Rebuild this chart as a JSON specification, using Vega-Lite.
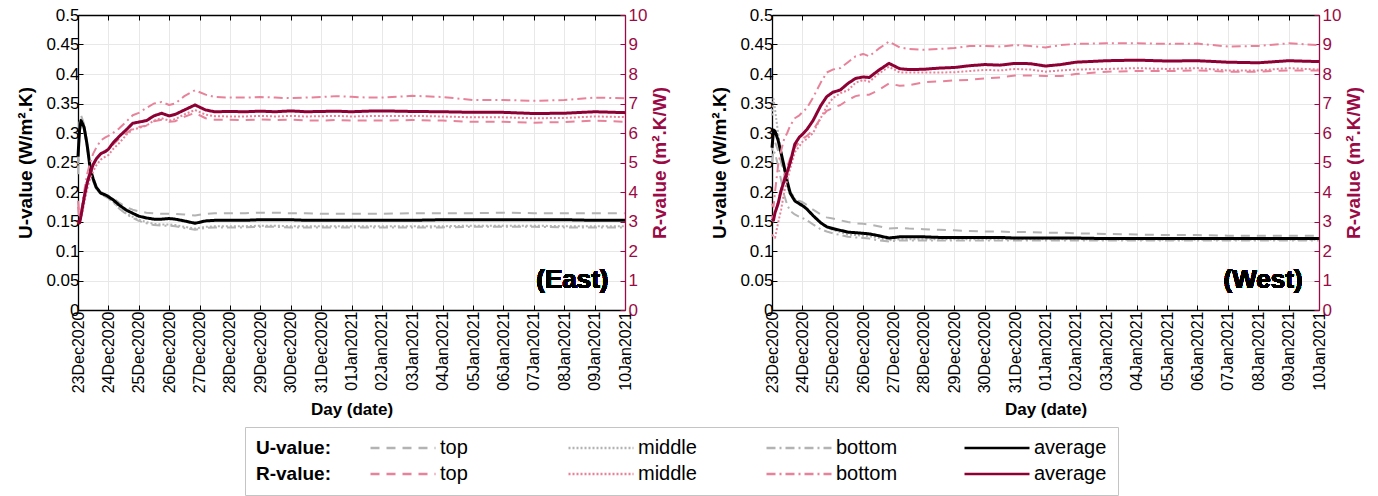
{
  "$schema": "https://vega.github.io/schema/vega-lite/v6.json",
  "padding": {"left": 16, "top": 6, "right": 4, "bottom": 2},
  "config": {
    "font": "Liberation Sans",
    "view": {"stroke": null},
    "axis": {
      "labelFont": "Liberation Sans", "labelFontSize": 17, "labelColor": "#000000",
      "titleFont": "Liberation Sans", "titleFontSize": 19, "titleFontWeight": "bold", "titleColor": "#000000",
      "domainColor": "#000000", "domainWidth": 1.3, "tickColor": "#000000", "tickSize": -5, "tickWidth": 1,
      "gridColor": "#e8e8e8", "gridWidth": 1, "labelFlush": false, "labelOverlap": false,
      "labelPadding": 4, "titlePadding": 4
    },
    "concat": {"spacing": 40}
  },
  "data": {"values": [
    {"p":"E","t":"2020-12-23T00:00","U top":0.25,"U middle":0.24,"U bottom":0.23,"U average":0.26,"R top":3.5,"R middle":3.0,"R bottom":3.7,"R average":3.05},
    {"p":"E","t":"2020-12-23T01:12","U top":0.32,"U middle":0.31,"U bottom":0.3,"U average":0.305,"R top":3.1,"R middle":2.9,"R bottom":3.2,"R average":2.95},
    {"p":"E","t":"2020-12-23T02:24","U top":0.33,"U middle":0.325,"U bottom":0.32,"U average":0.321,"R top":3.25,"R middle":3.1,"R bottom":3.3,"R average":3.2},
    {"p":"E","t":"2020-12-23T04:48","U top":0.315,"U middle":0.31,"U bottom":0.305,"U average":0.31,"R top":3.9,"R middle":3.6,"R bottom":4.0,"R average":3.8},
    {"p":"E","t":"2020-12-23T07:12","U top":0.285,"U middle":0.28,"U bottom":0.275,"U average":0.28,"R top":4.4,"R middle":4.1,"R bottom":4.6,"R average":4.3},
    {"p":"E","t":"2020-12-23T09:36","U top":0.25,"U middle":0.243,"U bottom":0.24,"U average":0.24,"R top":4.7,"R middle":4.45,"R bottom":5.0,"R average":4.65},
    {"p":"E","t":"2020-12-23T12:00","U top":0.225,"U middle":0.22,"U bottom":0.218,"U average":0.222,"R top":4.95,"R middle":4.7,"R bottom":5.3,"R average":4.93},
    {"p":"E","t":"2020-12-23T14:24","U top":0.21,"U middle":0.206,"U bottom":0.205,"U average":0.208,"R top":5.1,"R middle":4.9,"R bottom":5.5,"R average":5.12},
    {"p":"E","t":"2020-12-23T18:00","U top":0.2,"U middle":0.197,"U bottom":0.196,"U average":0.198,"R top":5.3,"R middle":5.1,"R bottom":5.75,"R average":5.3},
    {"p":"E","t":"2020-12-23T21:36","U top":0.196,"U middle":0.193,"U bottom":0.192,"U average":0.195,"R top":5.4,"R middle":5.2,"R bottom":5.85,"R average":5.37},
    {"p":"E","t":"2020-12-24T00:00","U top":0.194,"U middle":0.19,"U bottom":0.189,"U average":0.192,"R top":5.45,"R middle":5.25,"R bottom":5.9,"R average":5.45},
    {"p":"E","t":"2020-12-24T03:36","U top":0.19,"U middle":0.184,"U bottom":0.183,"U average":0.187,"R top":5.6,"R middle":5.45,"R bottom":6.0,"R average":5.66},
    {"p":"E","t":"2020-12-24T08:24","U top":0.182,"U middle":0.173,"U bottom":0.172,"U average":0.178,"R top":5.8,"R middle":5.65,"R bottom":6.15,"R average":5.88},
    {"p":"E","t":"2020-12-24T14:24","U top":0.174,"U middle":0.163,"U bottom":0.162,"U average":0.169,"R top":6.0,"R middle":5.95,"R bottom":6.4,"R average":6.12},
    {"p":"E","t":"2020-12-24T19:12","U top":0.17,"U middle":0.158,"U bottom":0.156,"U average":0.164,"R top":6.15,"R middle":6.12,"R bottom":6.6,"R average":6.33},
    {"p":"E","t":"2020-12-25T00:00","U top":0.167,"U middle":0.153,"U bottom":0.151,"U average":0.159,"R top":6.2,"R middle":6.17,"R bottom":6.68,"R average":6.37},
    {"p":"E","t":"2020-12-25T06:00","U top":0.165,"U middle":0.149,"U bottom":0.147,"U average":0.156,"R top":6.25,"R middle":6.25,"R bottom":6.85,"R average":6.42},
    {"p":"E","t":"2020-12-25T12:00","U top":0.164,"U middle":0.146,"U bottom":0.144,"U average":0.154,"R top":6.4,"R middle":6.42,"R bottom":7.0,"R average":6.58},
    {"p":"E","t":"2020-12-25T18:00","U top":0.163,"U middle":0.145,"U bottom":0.143,"U average":0.154,"R top":6.45,"R middle":6.5,"R bottom":7.05,"R average":6.67},
    {"p":"E","t":"2020-12-26T00:00","U top":0.163,"U middle":0.145,"U bottom":0.143,"U average":0.155,"R top":6.38,"R middle":6.42,"R bottom":6.95,"R average":6.58},
    {"p":"E","t":"2020-12-26T04:48","U top":0.163,"U middle":0.144,"U bottom":0.142,"U average":0.154,"R top":6.4,"R middle":6.47,"R bottom":7.0,"R average":6.63},
    {"p":"E","t":"2020-12-26T12:00","U top":0.162,"U middle":0.141,"U bottom":0.139,"U average":0.151,"R top":6.55,"R middle":6.63,"R bottom":7.25,"R average":6.78},
    {"p":"E","t":"2020-12-26T20:24","U top":0.16,"U middle":0.138,"U bottom":0.136,"U average":0.147,"R top":6.68,"R middle":6.78,"R bottom":7.45,"R average":6.95},
    {"p":"E","t":"2020-12-27T04:48","U top":0.163,"U middle":0.141,"U bottom":0.139,"U average":0.151,"R top":6.5,"R middle":6.62,"R bottom":7.3,"R average":6.78},
    {"p":"E","t":"2020-12-27T12:00","U top":0.164,"U middle":0.142,"U bottom":0.14,"U average":0.152,"R top":6.45,"R middle":6.57,"R bottom":7.22,"R average":6.72},
    {"p":"E","t":"2020-12-28T00:00","U top":0.164,"U middle":0.142,"U bottom":0.14,"U average":0.152,"R top":6.45,"R middle":6.56,"R bottom":7.2,"R average":6.73},
    {"p":"E","t":"2020-12-28T12:00","U top":0.164,"U middle":0.142,"U bottom":0.14,"U average":0.152,"R top":6.44,"R middle":6.56,"R bottom":7.2,"R average":6.72},
    {"p":"E","t":"2020-12-29T00:00","U top":0.165,"U middle":0.143,"U bottom":0.141,"U average":0.153,"R top":6.46,"R middle":6.58,"R bottom":7.22,"R average":6.74},
    {"p":"E","t":"2020-12-29T12:00","U top":0.165,"U middle":0.143,"U bottom":0.141,"U average":0.153,"R top":6.44,"R middle":6.56,"R bottom":7.2,"R average":6.72},
    {"p":"E","t":"2020-12-30T00:00","U top":0.164,"U middle":0.142,"U bottom":0.14,"U average":0.153,"R top":6.45,"R middle":6.58,"R bottom":7.18,"R average":6.75},
    {"p":"E","t":"2020-12-30T12:00","U top":0.164,"U middle":0.142,"U bottom":0.14,"U average":0.152,"R top":6.43,"R middle":6.56,"R bottom":7.2,"R average":6.72},
    {"p":"E","t":"2020-12-31T00:00","U top":0.163,"U middle":0.142,"U bottom":0.14,"U average":0.152,"R top":6.42,"R middle":6.57,"R bottom":7.22,"R average":6.73},
    {"p":"E","t":"2020-12-31T12:00","U top":0.163,"U middle":0.142,"U bottom":0.14,"U average":0.152,"R top":6.44,"R middle":6.58,"R bottom":7.25,"R average":6.74},
    {"p":"E","t":"2021-01-01T00:00","U top":0.163,"U middle":0.142,"U bottom":0.14,"U average":0.152,"R top":6.42,"R middle":6.56,"R bottom":7.23,"R average":6.72},
    {"p":"E","t":"2021-01-01T12:00","U top":0.163,"U middle":0.142,"U bottom":0.14,"U average":0.152,"R top":6.42,"R middle":6.57,"R bottom":7.2,"R average":6.74},
    {"p":"E","t":"2021-01-02T00:00","U top":0.163,"U middle":0.142,"U bottom":0.14,"U average":0.152,"R top":6.42,"R middle":6.58,"R bottom":7.2,"R average":6.75},
    {"p":"E","t":"2021-01-03T00:00","U top":0.164,"U middle":0.142,"U bottom":0.14,"U average":0.152,"R top":6.44,"R middle":6.58,"R bottom":7.26,"R average":6.73},
    {"p":"E","t":"2021-01-04T00:00","U top":0.164,"U middle":0.142,"U bottom":0.14,"U average":0.153,"R top":6.42,"R middle":6.56,"R bottom":7.22,"R average":6.72},
    {"p":"E","t":"2021-01-05T00:00","U top":0.164,"U middle":0.143,"U bottom":0.141,"U average":0.153,"R top":6.38,"R middle":6.53,"R bottom":7.12,"R average":6.7},
    {"p":"E","t":"2021-01-06T00:00","U top":0.165,"U middle":0.143,"U bottom":0.141,"U average":0.153,"R top":6.38,"R middle":6.53,"R bottom":7.12,"R average":6.7},
    {"p":"E","t":"2021-01-07T00:00","U top":0.164,"U middle":0.143,"U bottom":0.141,"U average":0.153,"R top":6.35,"R middle":6.5,"R bottom":7.09,"R average":6.66},
    {"p":"E","t":"2021-01-08T00:00","U top":0.164,"U middle":0.142,"U bottom":0.14,"U average":0.153,"R top":6.37,"R middle":6.51,"R bottom":7.12,"R average":6.67},
    {"p":"E","t":"2021-01-09T00:00","U top":0.164,"U middle":0.142,"U bottom":0.14,"U average":0.152,"R top":6.42,"R middle":6.56,"R bottom":7.2,"R average":6.72},
    {"p":"E","t":"2021-01-10T00:00","U top":0.164,"U middle":0.142,"U bottom":0.14,"U average":0.152,"R top":6.38,"R middle":6.54,"R bottom":7.18,"R average":6.69},
    {"p":"W","t":"2020-12-23T00:00","U top":0.27,"U middle":0.33,"U bottom":0.25,"U average":0.275,"R top":3.2,"R middle":2.55,"R bottom":3.6,"R average":3.1},
    {"p":"W","t":"2020-12-23T01:12","U top":0.29,"U middle":0.358,"U bottom":0.27,"U average":0.305,"R top":3.0,"R middle":2.5,"R bottom":3.5,"R average":3.05},
    {"p":"W","t":"2020-12-23T02:24","U top":0.285,"U middle":0.34,"U bottom":0.265,"U average":0.303,"R top":3.2,"R middle":2.45,"R bottom":4.0,"R average":3.3},
    {"p":"W","t":"2020-12-23T04:48","U top":0.27,"U middle":0.3,"U bottom":0.245,"U average":0.288,"R top":3.7,"R middle":2.95,"R bottom":4.9,"R average":3.6},
    {"p":"W","t":"2020-12-23T07:12","U top":0.25,"U middle":0.265,"U bottom":0.22,"U average":0.266,"R top":4.1,"R middle":3.4,"R bottom":5.4,"R average":4.05},
    {"p":"W","t":"2020-12-23T09:36","U top":0.23,"U middle":0.235,"U bottom":0.195,"U average":0.243,"R top":4.5,"R middle":4.0,"R bottom":5.8,"R average":4.38},
    {"p":"W","t":"2020-12-23T12:00","U top":0.215,"U middle":0.21,"U bottom":0.178,"U average":0.218,"R top":4.85,"R middle":4.4,"R bottom":6.0,"R average":4.68},
    {"p":"W","t":"2020-12-23T14:24","U top":0.2,"U middle":0.195,"U bottom":0.168,"U average":0.198,"R top":5.15,"R middle":4.8,"R bottom":6.25,"R average":5.0},
    {"p":"W","t":"2020-12-23T18:00","U top":0.19,"U middle":0.188,"U bottom":0.162,"U average":0.185,"R top":5.5,"R middle":5.35,"R bottom":6.5,"R average":5.62},
    {"p":"W","t":"2020-12-23T21:36","U top":0.185,"U middle":0.184,"U bottom":0.158,"U average":0.18,"R top":5.7,"R middle":5.55,"R bottom":6.6,"R average":5.86},
    {"p":"W","t":"2020-12-24T00:00","U top":0.183,"U middle":0.18,"U bottom":0.156,"U average":0.177,"R top":5.8,"R middle":5.7,"R bottom":6.7,"R average":5.95},
    {"p":"W","t":"2020-12-24T03:36","U top":0.178,"U middle":0.172,"U bottom":0.152,"U average":0.171,"R top":5.9,"R middle":5.8,"R bottom":6.85,"R average":6.12},
    {"p":"W","t":"2020-12-24T08:24","U top":0.17,"U middle":0.16,"U bottom":0.145,"U average":0.16,"R top":6.1,"R middle":6.0,"R bottom":7.2,"R average":6.42},
    {"p":"W","t":"2020-12-24T14:24","U top":0.162,"U middle":0.147,"U bottom":0.137,"U average":0.148,"R top":6.5,"R middle":6.5,"R bottom":7.7,"R average":6.92},
    {"p":"W","t":"2020-12-24T19:12","U top":0.157,"U middle":0.14,"U bottom":0.133,"U average":0.141,"R top":6.75,"R middle":6.9,"R bottom":8.05,"R average":7.23},
    {"p":"W","t":"2020-12-25T00:00","U top":0.155,"U middle":0.136,"U bottom":0.13,"U average":0.138,"R top":6.85,"R middle":7.18,"R bottom":8.15,"R average":7.38},
    {"p":"W","t":"2020-12-25T06:00","U top":0.152,"U middle":0.132,"U bottom":0.127,"U average":0.135,"R top":6.95,"R middle":7.35,"R bottom":8.2,"R average":7.46},
    {"p":"W","t":"2020-12-25T12:00","U top":0.149,"U middle":0.128,"U bottom":0.124,"U average":0.132,"R top":7.12,"R middle":7.45,"R bottom":8.4,"R average":7.68},
    {"p":"W","t":"2020-12-25T18:00","U top":0.147,"U middle":0.127,"U bottom":0.123,"U average":0.131,"R top":7.25,"R middle":7.7,"R bottom":8.6,"R average":7.85},
    {"p":"W","t":"2020-12-26T00:00","U top":0.146,"U middle":0.126,"U bottom":0.122,"U average":0.13,"R top":7.3,"R middle":7.8,"R bottom":8.68,"R average":7.9},
    {"p":"W","t":"2020-12-26T04:48","U top":0.145,"U middle":0.125,"U bottom":0.121,"U average":0.129,"R top":7.3,"R middle":7.74,"R bottom":8.6,"R average":7.88},
    {"p":"W","t":"2020-12-26T12:00","U top":0.142,"U middle":0.122,"U bottom":0.118,"U average":0.126,"R top":7.45,"R middle":8.0,"R bottom":8.85,"R average":8.12},
    {"p":"W","t":"2020-12-26T20:24","U top":0.138,"U middle":0.118,"U bottom":0.116,"U average":0.122,"R top":7.68,"R middle":8.25,"R bottom":9.1,"R average":8.36},
    {"p":"W","t":"2020-12-27T04:48","U top":0.139,"U middle":0.12,"U bottom":0.118,"U average":0.124,"R top":7.6,"R middle":8.05,"R bottom":8.9,"R average":8.18},
    {"p":"W","t":"2020-12-27T12:00","U top":0.138,"U middle":0.12,"U bottom":0.118,"U average":0.124,"R top":7.62,"R middle":8.05,"R bottom":8.85,"R average":8.15},
    {"p":"W","t":"2020-12-28T00:00","U top":0.137,"U middle":0.12,"U bottom":0.118,"U average":0.124,"R top":7.72,"R middle":8.05,"R bottom":8.82,"R average":8.16},
    {"p":"W","t":"2020-12-28T12:00","U top":0.136,"U middle":0.12,"U bottom":0.118,"U average":0.123,"R top":7.75,"R middle":8.05,"R bottom":8.85,"R average":8.2},
    {"p":"W","t":"2020-12-29T00:00","U top":0.135,"U middle":0.12,"U bottom":0.118,"U average":0.123,"R top":7.78,"R middle":8.06,"R bottom":8.88,"R average":8.22},
    {"p":"W","t":"2020-12-29T12:00","U top":0.134,"U middle":0.12,"U bottom":0.118,"U average":0.123,"R top":7.8,"R middle":8.1,"R bottom":8.95,"R average":8.28},
    {"p":"W","t":"2020-12-30T00:00","U top":0.133,"U middle":0.12,"U bottom":0.118,"U average":0.123,"R top":7.85,"R middle":8.14,"R bottom":8.95,"R average":8.32},
    {"p":"W","t":"2020-12-30T12:00","U top":0.133,"U middle":0.12,"U bottom":0.118,"U average":0.123,"R top":7.88,"R middle":8.12,"R bottom":8.93,"R average":8.3},
    {"p":"W","t":"2020-12-31T00:00","U top":0.132,"U middle":0.12,"U bottom":0.118,"U average":0.122,"R top":7.95,"R middle":8.17,"R bottom":8.98,"R average":8.36},
    {"p":"W","t":"2020-12-31T12:00","U top":0.132,"U middle":0.12,"U bottom":0.118,"U average":0.122,"R top":7.95,"R middle":8.15,"R bottom":8.95,"R average":8.35},
    {"p":"W","t":"2021-01-01T00:00","U top":0.131,"U middle":0.12,"U bottom":0.118,"U average":0.122,"R top":7.93,"R middle":8.08,"R bottom":8.9,"R average":8.27},
    {"p":"W","t":"2021-01-01T12:00","U top":0.131,"U middle":0.12,"U bottom":0.118,"U average":0.122,"R top":7.93,"R middle":8.12,"R bottom":8.98,"R average":8.32},
    {"p":"W","t":"2021-01-02T00:00","U top":0.13,"U middle":0.12,"U bottom":0.118,"U average":0.122,"R top":8.0,"R middle":8.15,"R bottom":9.02,"R average":8.4},
    {"p":"W","t":"2021-01-03T00:00","U top":0.129,"U middle":0.119,"U bottom":0.118,"U average":0.121,"R top":8.08,"R middle":8.17,"R bottom":9.04,"R average":8.45},
    {"p":"W","t":"2021-01-04T00:00","U top":0.128,"U middle":0.119,"U bottom":0.118,"U average":0.121,"R top":8.1,"R middle":8.2,"R bottom":9.04,"R average":8.47},
    {"p":"W","t":"2021-01-05T00:00","U top":0.127,"U middle":0.119,"U bottom":0.118,"U average":0.121,"R top":8.1,"R middle":8.17,"R bottom":9.02,"R average":8.44},
    {"p":"W","t":"2021-01-06T00:00","U top":0.127,"U middle":0.119,"U bottom":0.118,"U average":0.121,"R top":8.12,"R middle":8.2,"R bottom":9.03,"R average":8.45},
    {"p":"W","t":"2021-01-07T00:00","U top":0.126,"U middle":0.119,"U bottom":0.118,"U average":0.121,"R top":8.08,"R middle":8.12,"R bottom":8.93,"R average":8.4},
    {"p":"W","t":"2021-01-08T00:00","U top":0.126,"U middle":0.119,"U bottom":0.118,"U average":0.121,"R top":8.08,"R middle":8.12,"R bottom":8.95,"R average":8.38},
    {"p":"W","t":"2021-01-09T00:00","U top":0.126,"U middle":0.119,"U bottom":0.118,"U average":0.121,"R top":8.12,"R middle":8.2,"R bottom":9.04,"R average":8.45},
    {"p":"W","t":"2021-01-10T00:00","U top":0.126,"U middle":0.119,"U bottom":0.118,"U average":0.121,"R top":8.12,"R middle":8.15,"R bottom":8.98,"R average":8.42}
  ]},
  "transform": [
    {"fold": ["U top", "U middle", "U bottom", "U average", "R top", "R middle", "R bottom", "R average"], "as": ["series", "value"]}
  ],
  "hconcat": [
    {
      "width": 547, "height": 295,
      "transform": [{"filter": "datum.p == 'E'"}],
      "layer": [
        {
          "transform": [{"filter": "indexof(datum.series, 'U') == 0"}],
          "mark": {"type": "line", "strokeCap": "butt", "strokeJoin": "round"},
          "encoding": {
            "x": {"field": "t", "type": "temporal",
              "scale": {"domain": [{"year": 2020, "month": 12, "date": 23}, {"year": 2021, "month": 1, "date": 10}], "nice": false},
              "axis": {"orient": "bottom", "title": "Day (date)", "titleFontSize": 17, "format": "%d%b%Y", "formatType": "time", "labelAngle": 270, "labelFontSize": 16, "tickCount": {"interval": "day", "step": 1}, "grid": true, "labelPadding": 6, "titlePadding": 9}},
            "y": {"field": "value", "type": "quantitative",
              "scale": {"domain": [0, 0.5], "nice": false},
              "axis": {"orient": "left", "title": "U-value (W/m².K)", "labelFontSize": 17, "titlePadding": 10, "values": [0, 0.05, 0.1, 0.15, 0.2, 0.25, 0.3, 0.35, 0.4, 0.45, 0.5], "format": "~g", "grid": true}},
            "color": {"field": "series", "type": "nominal",
              "scale": {"domain": ["U top", "U middle", "U bottom", "U average", "R top", "R middle", "R bottom", "R average"],
                        "range": ["#b3b3b3", "#b3b3b3", "#b3b3b3", "#000000", "#e8829a", "#e8829a", "#e8829a", "#8c0033"]},
              "legend": {"orient": "none", "legendX": 167, "legendY": 412, "direction": "horizontal", "columns": 4, "title": ["U-value:", "R-value:"], "titleOrient": "left", "titleFontSize": 19, "titleFontWeight": "bold", "titleLineHeight": 26, "titlePadding": 36, "titleAnchor": "middle", "titleBaseline": "middle", "symbolType": "M-6.5,0H6.5", "symbolSize": 100, "symbolOffset": 26, "symbolStrokeWidth": 2.5, "labelFontSize": 20, "labelFont": "Liberation Sans", "labelOffset": 27, "labelExpr": "split(datum.label, ' ')[1]", "columnPadding": 50, "rowPadding": 6, "gridAlign": "all", "strokeColor": "#c4c4c4", "padding": 11}},
            "strokeDash": {"field": "series", "type": "nominal",
              "scale": {"domain": ["U top", "U middle", "U bottom", "U average", "R top", "R middle", "R bottom", "R average"],
                        "range": [[9, 7], [2, 2], [9, 4, 2, 4], [1, 0], [9, 7], [2, 2], [9, 4, 2, 4], [1, 0]]},
              "legend": {"orient": "none", "legendX": 167, "legendY": 412, "direction": "horizontal", "columns": 4, "title": ["U-value:", "R-value:"], "titleOrient": "left", "titleFontSize": 19, "titleFontWeight": "bold", "titleLineHeight": 26, "titlePadding": 36, "titleAnchor": "middle", "titleBaseline": "middle", "symbolType": "M-6.5,0H6.5", "symbolSize": 100, "symbolOffset": 26, "symbolStrokeWidth": 2.5, "labelFontSize": 20, "labelFont": "Liberation Sans", "labelOffset": 27, "labelExpr": "split(datum.label, ' ')[1]", "columnPadding": 50, "rowPadding": 6, "gridAlign": "all", "strokeColor": "#c4c4c4", "padding": 11}},
            "strokeWidth": {"condition": {"test": "indexof(datum.series, 'average') >= 0", "value": 3}, "value": 2}
          }
        },
        {
          "transform": [{"filter": "indexof(datum.series, 'R') == 0"}],
          "mark": {"type": "line", "strokeCap": "butt", "strokeJoin": "round"},
          "encoding": {
            "x": {"field": "t", "type": "temporal",
              "axis": {"orient": "top", "title": null, "labels": false, "grid": false}},
            "y": {"field": "value", "type": "quantitative",
              "scale": {"domain": [0, 10], "nice": false},
              "axis": {"orient": "right", "title": "R-value (m².K/W)", "titleAngle": 270, "titleBaseline": "top", "titleColor": "#9b0a45", "labelColor": "#9b0a45", "labelFontSize": 17, "domainColor": "#9b0a45", "tickColor": "#9b0a45", "values": [0, 1, 2, 3, 4, 5, 6, 7, 8, 9, 10], "grid": false, "labelPadding": 8, "titlePadding": 4}},
            "color": {"field": "series", "type": "nominal"},
            "strokeDash": {"field": "series", "type": "nominal"},
            "strokeWidth": {"condition": {"test": "indexof(datum.series, 'average') >= 0", "value": 3}, "value": 2}
          }
        },
        {
          "mark": {"type": "text", "text": "(East)", "font": "Liberation Sans", "fontSize": 26, "fontWeight": "bold", "align": "right", "baseline": "alphabetic", "color": "#000000"},
          "encoding": {
            "x": {"datum": {"year": 2021, "month": 1, "date": 9, "hours": 11}, "type": "temporal", "axis": null},
            "y": {"datum": 0.75, "type": "quantitative", "scale": {"domain": [0, 10], "nice": false}, "axis": null}
          }
        }
      ],
      "resolve": {"scale": {"y": "independent"}, "axis": {"x": "independent", "y": "independent"}}
    },
    {
      "width": 547, "height": 295,
      "transform": [{"filter": "datum.p == 'W'"}],
      "layer": [
        {
          "transform": [{"filter": "indexof(datum.series, 'U') == 0"}],
          "mark": {"type": "line", "strokeCap": "butt", "strokeJoin": "round"},
          "encoding": {
            "x": {"field": "t", "type": "temporal",
              "scale": {"domain": [{"year": 2020, "month": 12, "date": 23}, {"year": 2021, "month": 1, "date": 10}], "nice": false},
              "axis": {"orient": "bottom", "title": "Day (date)", "titleFontSize": 17, "format": "%d%b%Y", "formatType": "time", "labelAngle": 270, "labelFontSize": 16, "tickCount": {"interval": "day", "step": 1}, "grid": true, "labelPadding": 6, "titlePadding": 9}},
            "y": {"field": "value", "type": "quantitative",
              "scale": {"domain": [0, 0.5], "nice": false},
              "axis": {"orient": "left", "title": "U-value (W/m².K)", "labelFontSize": 17, "titlePadding": 10, "values": [0, 0.05, 0.1, 0.15, 0.2, 0.25, 0.3, 0.35, 0.4, 0.45, 0.5], "format": "~g", "grid": true}},
            "color": {"field": "series", "type": "nominal"},
            "strokeDash": {"field": "series", "type": "nominal"},
            "strokeWidth": {"condition": {"test": "indexof(datum.series, 'average') >= 0", "value": 3}, "value": 2}
          }
        },
        {
          "transform": [{"filter": "indexof(datum.series, 'R') == 0"}],
          "mark": {"type": "line", "strokeCap": "butt", "strokeJoin": "round"},
          "encoding": {
            "x": {"field": "t", "type": "temporal",
              "axis": {"orient": "top", "title": null, "labels": false, "grid": false}},
            "y": {"field": "value", "type": "quantitative",
              "scale": {"domain": [0, 10], "nice": false},
              "axis": {"orient": "right", "title": "R-value (m².K/W)", "titleAngle": 270, "titleBaseline": "top", "titleColor": "#9b0a45", "labelColor": "#9b0a45", "labelFontSize": 17, "domainColor": "#9b0a45", "tickColor": "#9b0a45", "values": [0, 1, 2, 3, 4, 5, 6, 7, 8, 9, 10], "grid": false, "labelPadding": 8, "titlePadding": 4}},
            "color": {"field": "series", "type": "nominal"},
            "strokeDash": {"field": "series", "type": "nominal"},
            "strokeWidth": {"condition": {"test": "indexof(datum.series, 'average') >= 0", "value": 3}, "value": 2}
          }
        },
        {
          "mark": {"type": "text", "text": "(West)", "font": "Liberation Sans", "fontSize": 26, "fontWeight": "bold", "align": "right", "baseline": "alphabetic", "color": "#000000"},
          "encoding": {
            "x": {"datum": {"year": 2021, "month": 1, "date": 9, "hours": 11}, "type": "temporal", "axis": null},
            "y": {"datum": 0.75, "type": "quantitative", "scale": {"domain": [0, 10], "nice": false}, "axis": null}
          }
        }
      ],
      "resolve": {"scale": {"y": "independent"}, "axis": {"x": "independent", "y": "independent"}}
    }
  ]
}
